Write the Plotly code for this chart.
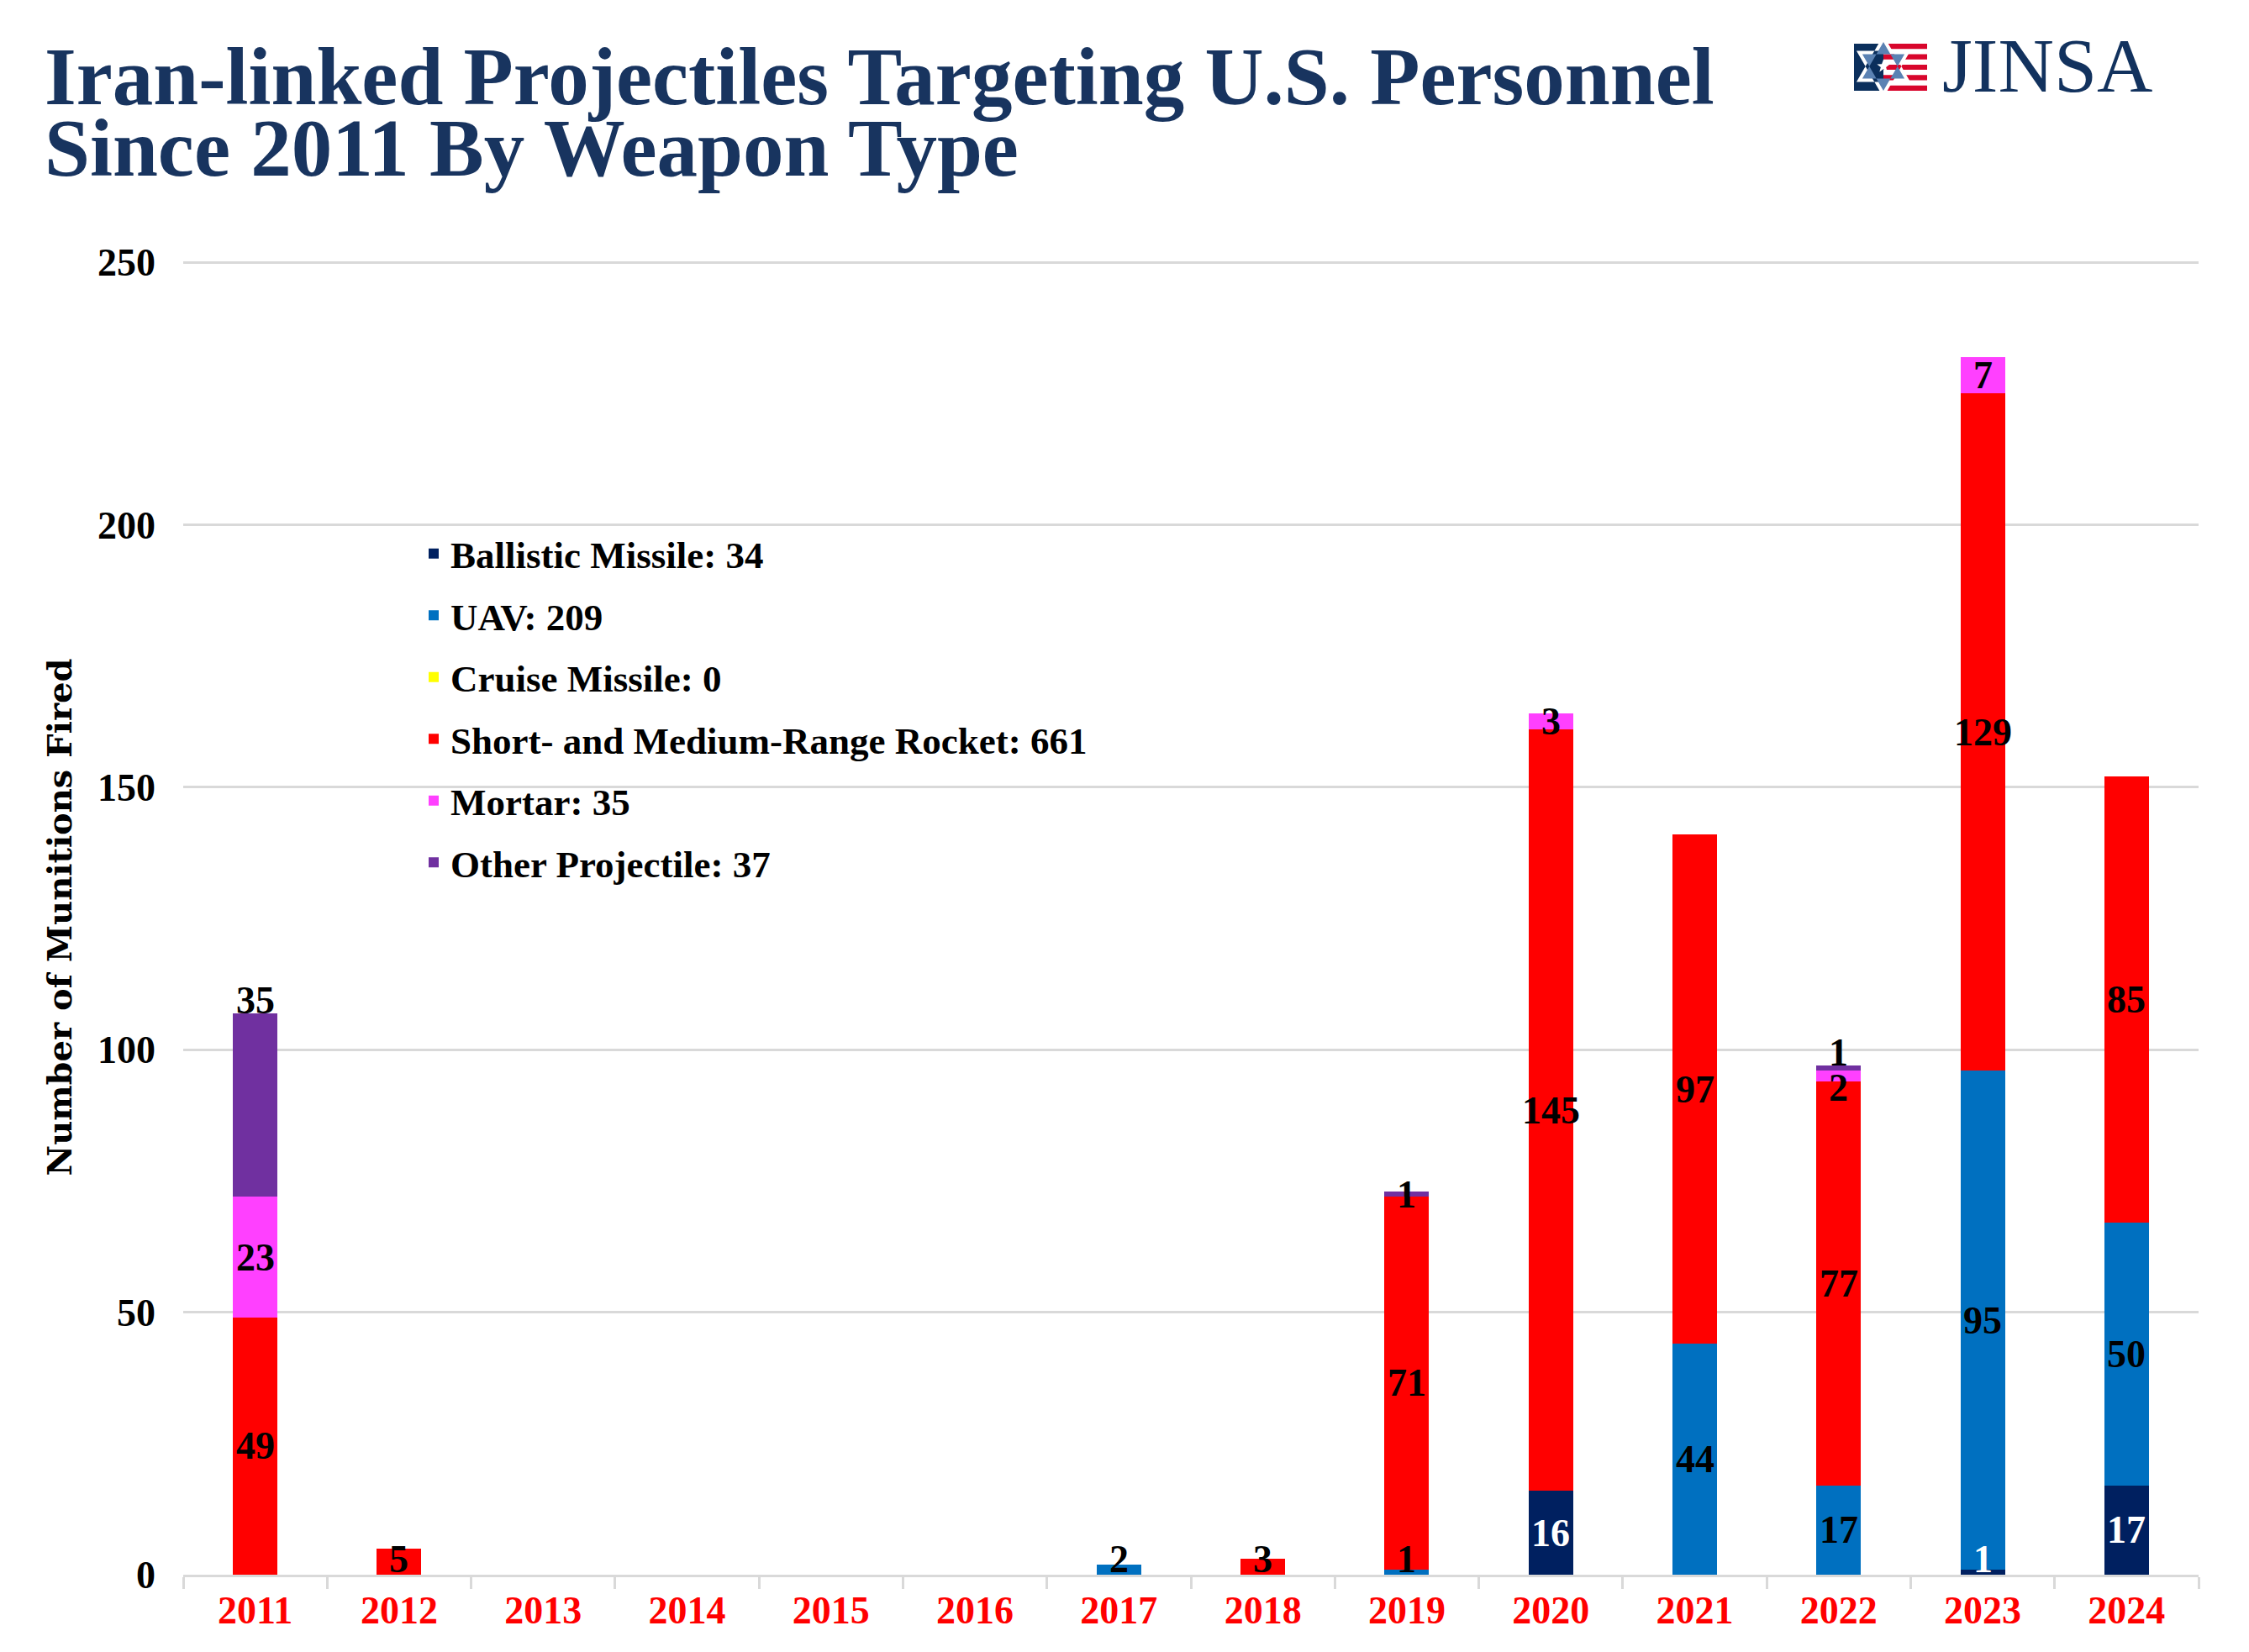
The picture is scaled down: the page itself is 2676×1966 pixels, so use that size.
import math
import plotly.graph_objects as go

# ---------------- data ----------------
YEARS = ["2011", "2012", "2013", "2014", "2015", "2016", "2017",
         "2018", "2019", "2020", "2021", "2022", "2023", "2024"]

BALLISTIC = [0, 0, 0, 0, 0, 0, 0, 0, 0, 16, 0, 0, 1, 17]
UAV       = [0, 0, 0, 0, 0, 0, 2, 0, 1, 0, 44, 17, 95, 50]
CRUISE    = [0, 0, 0, 0, 0, 0, 0, 0, 0, 0, 0, 0, 0, 0]
ROCKET    = [49, 5, 0, 0, 0, 0, 0, 3, 71, 145, 97, 77, 129, 85]
MORTAR    = [23, 0, 0, 0, 0, 0, 0, 0, 0, 3, 0, 2, 7, 0]
OTHER     = [35, 0, 0, 0, 0, 0, 0, 0, 1, 0, 0, 1, 0, 0]

SERIES_NAMES = ["Ballistic Missile", "UAV", "Cruise Missile",
                "Short- and Medium-Range Rocket", "Mortar", "Other Projectile"]
SERIES_VALUES = [BALLISTIC, UAV, CRUISE, ROCKET, MORTAR, OTHER]
SERIES_COLORS = ["#002060", "#0070c0", "#ffff00", "#ff0000", "#ff40ff", "#7030a0"]
LABEL_COLORS = ["#ffffff", "#000000", "#000000", "#000000", "#000000", "#000000"]

TITLE_LINES = ["Iran-linked Projectiles Targeting U.S. Personnel",
               "Since 2011 By Weapon Type"]
Y_TITLE = "Number of Munitions Fired"
Y_TICKS = [0, 50, 100, 150, 200, 250]

# labels that sit above their segment instead of centred in it
LABEL_ABOVE = {("Other Projectile", "2011"), ("Other Projectile", "2022")}
# small pixel nudges for crowded labels
LABEL_NUDGE = {("Mortar", "2022"): -14}

# ---------------- layout geometry (pixels) ----------------
W, H = 2676, 1966
PL, PR, PT, PB = 218, 2616, 309, 1874

def px_x(px):
    return (px - PL) / (PR - PL)

def px_y(py):
    return (PB - py) / (PB - PT)

NAVY = "#18345f"
SERIF = "Liberation Serif"

fig = go.Figure()

for name, vals, color in zip(SERIES_NAMES, SERIES_VALUES, SERIES_COLORS):
    fig.add_trace(go.Bar(
        x=YEARS, y=vals, name=f"{name}: {sum(vals)}",
        marker=dict(color=color, line=dict(width=0)),
        legendgroup=name, hovertemplate="%{x}: %{y}<extra>" + name + "</extra>",
    ))

# value labels (category axis -> position by category index)
annotations = []
base = [0] * len(YEARS)
for name, vals, lc in zip(SERIES_NAMES, SERIES_VALUES, LABEL_COLORS):
    for i, v in enumerate(vals):
        if v <= 0:
            continue
        font = dict(family=SERIF, size=46, color=lc, weight="bold")
        common = dict(x=i, xref="x", yref="y", text=str(v), showarrow=False, font=font)
        if (name, YEARS[i]) in LABEL_ABOVE:
            annotations.append(dict(common, y=base[i] + v, yanchor="bottom", yshift=-12))
        elif base[i] == 0 and v < 6:
            annotations.append(dict(common, y=0, yanchor="bottom", yshift=-9))
        else:
            annotations.append(dict(common, y=base[i] + v / 2, yanchor="middle",
                                    yshift=LABEL_NUDGE.get((name, YEARS[i]), 0)))
        base[i] += v

# title (two lines, tight leading)
title_font = dict(family=SERIF, size=97, color=NAVY, weight="bold")
annotations.append(dict(x=px_x(51), y=px_y(91), xref="paper", yref="paper",
                        text=TITLE_LINES[0], showarrow=False, xanchor="left",
                        yanchor="middle", font=title_font))
annotations.append(dict(x=px_x(51), y=px_y(177), xref="paper", yref="paper",
                        text=TITLE_LINES[1], showarrow=False, xanchor="left",
                        yanchor="middle", font=title_font))

# JINSA logo text
annotations.append(dict(x=px_x(2309), y=px_y(78), xref="paper", yref="paper",
                        text="JINSA", showarrow=False, xanchor="left", yanchor="middle",
                        font=dict(family=SERIF, size=92, color="#12325e")))

# ---------------- logo icon shapes ----------------
shapes = []
LOGO_RED = "#d8062c"
LOGO_NAVY = "#0b2f5c"
LOGO_BLUE = "#5b82b3"
ix0, ix1, iy0, iy1 = 2206, 2293, 52, 108
cx, cy = 2241, 79

def rect(x0, y0, x1, y1, color):
    return dict(type="rect", xref="paper", yref="paper",
                x0=px_x(x0), x1=px_x(x1), y0=px_y(y1), y1=px_y(y0),
                fillcolor=color, line=dict(width=0), layer="above")

shapes.append(rect(ix0, iy0, cx, iy1, LOGO_NAVY))
band = (iy1 - iy0) / 9.0
for k in range(0, 9, 2):
    shapes.append(rect(cx, iy0 + k * band, ix1, iy0 + (k + 1) * band, LOGO_RED))

def poly_path(points):
    s = ""
    for j, (x, y) in enumerate(points):
        s += ("M" if j == 0 else "L") + f"{px_x(x):.6f},{px_y(y):.6f}"
    return s + "Z"

def hexagram(r):
    up = [(cx + r * math.cos(math.radians(a)), cy - r * math.sin(math.radians(a)))
          for a in (90, 210, 330)]
    dn = [(cx + r * math.cos(math.radians(a)), cy - r * math.sin(math.radians(a)))
          for a in (270, 30, 150)]
    return poly_path(up) + poly_path(dn)

def star5(r_out, r_in):
    pts = []
    for k in range(10):
        a = math.radians(90 + 36 * k)
        r = r_out if k % 2 == 0 else r_in
        pts.append((cx + r * math.cos(a), cy - r * math.sin(a)))
    return poly_path(pts)

shapes.append(dict(type="path", xref="paper", yref="paper", path=hexagram(37),
                   fillcolor="#ffffff", line=dict(width=0), layer="above"))
shapes.append(dict(type="path", xref="paper", yref="paper", path=hexagram(29),
                   fillcolor=LOGO_BLUE, line=dict(width=0), layer="above"))
shapes.append(dict(type="path", xref="paper", yref="paper", path=star5(8, 3.3),
                   fillcolor="#ffffff", line=dict(width=0), layer="above"))

fig.update_layout(
    width=W, height=H,
    margin=dict(l=PL, r=W - PR, t=PT, b=H - PB, autoexpand=False),
    paper_bgcolor="#ffffff", plot_bgcolor="#ffffff",
    barmode="stack", bargap=0.69,
    showlegend=True,
    legend=dict(x=px_x(496), xanchor="left", y=px_y(623), yanchor="top",
                font=dict(family=SERIF, size=45, color="#000000", weight="bold"),
                traceorder="grouped", tracegroupgap=12,
                bgcolor="rgba(0,0,0,0)", borderwidth=0),
    xaxis=dict(type="category", categoryorder="array", categoryarray=YEARS,
               range=[-0.5, len(YEARS) - 0.5],
               showgrid=False, showline=True, linecolor="#d9d9d9", linewidth=3,
               ticks="outside", tickson="boundaries", ticklen=14, tickwidth=3,
               tickcolor="#d9d9d9", ticklabelstandoff=0,
               tickfont=dict(family=SERIF, size=46, color="#ff0000", weight="bold"),
               zeroline=False, fixedrange=True),
    yaxis=dict(range=[0, 250.5], tickvals=Y_TICKS, showgrid=True, gridcolor="#d9d9d9",
               gridwidth=3, zeroline=False, showline=False, ticks="",
               ticklabelstandoff=32,
               tickfont=dict(family=SERIF, size=46, color="#000000", weight="bold"),
               title=dict(text=Y_TITLE, standoff=18,
                          font=dict(family="DejaVu Serif", size=40, color="#000000",
                                    weight="bold")),
               fixedrange=True),
    annotations=annotations,
    shapes=shapes,
)

# the page's default body margin would offset the figure; remove it
fig.write_html("out.html", config={"displayModeBar": False},
               post_script="document.body.style.margin='0px';")
